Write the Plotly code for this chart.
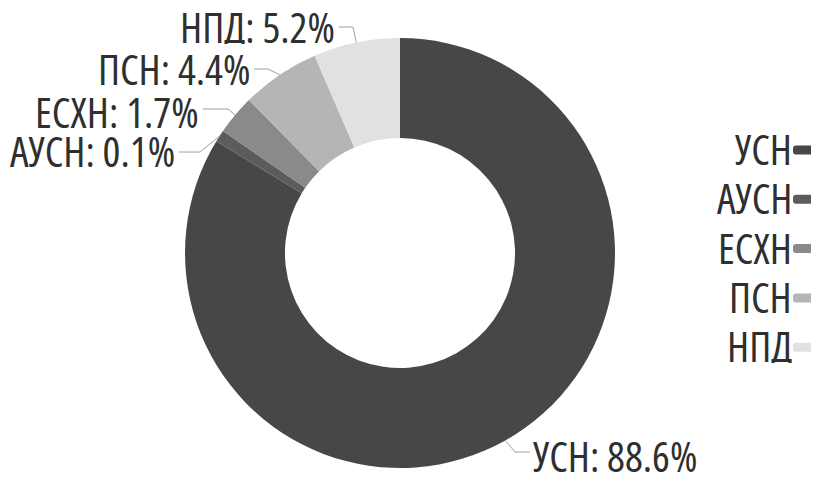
import math
import plotly.graph_objects as go

# ---- data ----
categories = ["УСН", "АУСН", "ЕСХН", "ПСН", "НПД"]
label_shares = [88.6, 0.1, 1.7, 4.4, 5.2]          # percentages printed in the labels
arc_values = [83.7, 0.9, 3.0, 5.9, 6.5]            # slice sizes as drawn in the picture

# ---- style ----
colors = ["#474747", "#5c5c5c", "#8a8a8a", "#b5b5b5", "#e1e1e1"]
SW, SH = 819, 479          # screen size
OFF = 8                    # page body margin
W, H = SW - OFF, SH - OFF  # figure size
CX, CY, R = 400, 253, 215  # screen pixels
HOLE = 0.535
FONT = "Open Sans"
TXT = "#2f2f2f"
FS = 42
BOX_H = 36

# label layout in screen pixels
text_edge = [535, 173, 197, 248, 333]
text_cy = [459, 154, 115, 72, 30]
line_y = [452, 152, 109, 69, 27]
elbow_x = [515, 200, 228, 268, 353]
label_side = ["left", "right", "right", "right", "right"]

def px(x):
    return (x - OFF) / W

def py(y):
    return 1 - (y - OFF) / H

def narrow(s):
    return f'<span style="font-stretch:75%">{s}</span>'

fig = go.Figure(go.Pie(
    labels=categories,
    values=arc_values,
    hole=HOLE,
    sort=False,
    direction="clockwise",
    rotation=0,
    textinfo="none",
    hoverinfo="label+value",
    marker=dict(colors=colors, line=dict(width=0)),
    domain=dict(x=[px(CX - R), px(CX + R)], y=[py(CY + R), py(CY - R)]),
    showlegend=False,
))

shapes = []
annotations = []
total = sum(arc_values)
cum = 0.0
for i, (cat, v, pct) in enumerate(zip(categories, arc_values, label_shares)):
    mid = (cum + v / 2) / total * 2 * math.pi
    cum += v
    sx = CX + R * math.sin(mid)
    sy = CY - R * math.cos(mid)
    left = label_side[i] == "left"
    tx = text_edge[i] - 5 if left else text_edge[i] + 6
    path = (f"M {px(sx)} {py(sy)} L {px(elbow_x[i])} {py(line_y[i])} "
            f"L {px(tx)} {py(line_y[i])}")
    shapes.append(dict(type="path", xref="paper", yref="paper", path=path,
                       line=dict(color="#a0a0a0", width=1)))
    ax = text_edge[i] - 4 if left else text_edge[i] + 4
    annotations.append(dict(
        x=px(ax), y=py(text_cy[i] - 4), xref="paper", yref="paper",
        xanchor="left" if left else "right", yanchor="middle",
        height=BOX_H, valign="middle",
        text=narrow(f"{cat}: {pct}%"), showarrow=False,
        font=dict(family=FONT, size=FS, color=TXT),
    ))

# custom legend: text on the left, rounded swatch on the right
leg_edge = 790
leg_y0, leg_dy = 152, 49.3
for i, cat in enumerate(categories):
    yy = leg_y0 + i * leg_dy
    annotations.append(dict(
        x=px(leg_edge + 4), y=py(yy - 4), xref="paper", yref="paper",
        xanchor="right", yanchor="middle", height=BOX_H, valign="middle",
        text=narrow(cat), showarrow=False,
        font=dict(family=FONT, size=FS, color=TXT),
    ))
    x0, x1, y0, y1, r = leg_edge + 3, leg_edge + 27, yy - 6.5, yy + 2.5, 3
    path = (f"M {px(x0 + r)} {py(y0)} L {px(x1 - r)} {py(y0)} "
            f"Q {px(x1)} {py(y0)} {px(x1)} {py(y0 + r)} L {px(x1)} {py(y1 - r)} "
            f"Q {px(x1)} {py(y1)} {px(x1 - r)} {py(y1)} L {px(x0 + r)} {py(y1)} "
            f"Q {px(x0)} {py(y1)} {px(x0)} {py(y1 - r)} L {px(x0)} {py(y0 + r)} "
            f"Q {px(x0)} {py(y0)} {px(x0 + r)} {py(y0)} Z")
    shapes.append(dict(type="path", xref="paper", yref="paper", path=path,
                       fillcolor=colors[i], line=dict(width=0)))

fig.update_layout(
    width=W, height=H,
    margin=dict(l=0, r=0, t=0, b=0),
    paper_bgcolor="white", plot_bgcolor="white",
    shapes=shapes, annotations=annotations,
)

fig.write_html("out.html")
